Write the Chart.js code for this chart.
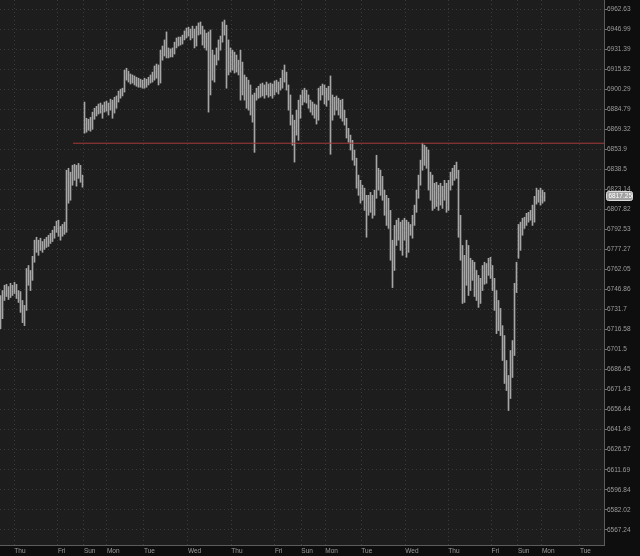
<!DOCTYPE html>
<html>
<head>
<meta charset="utf-8">
<title>ES hourly bars</title>
<script src="https://cdn.jsdelivr.net/npm/chart.js@4.4.1/dist/chart.umd.min.js"></script>
<style>
  html, body { margin: 0; padding: 0; background: #0e0e0e; }
  #wrap { width: 640px; height: 556px; position: relative; }
</style>
</head>
<body>
<div id="wrap"><canvas id="priceChart"></canvas></div>
<script>
// hourly OHLC, one entry per bar (left to right)
const opens = [
  6723.25, 6738.5, 6741.5, 6746, 6748.25, 6742.25, 6747.5, 6744.5, 6750, 6741.5,
  6744.5, 6732.5, 6724.75, 6732.5, 6759.75, 6755.25, 6757.5, 6769, 6780.25, 6778,
  6781.75, 6779.5, 6781, 6782.5, 6784.25, 6785.75, 6787.25, 6789.5, 6793.25, 6796.25,
  6789.5, 6792.5, 6791, 6794.75, 6833, 6816.25, 6830, 6837.75, 6834.75, 6839.25,
  6836.25, 6833, 6870, 6874.75, 6871.75, 6875.5, 6870, 6880.25, 6882.5, 6884.75,
  6887, 6884, 6886.25, 6888.75, 6885.5, 6888, 6891, 6882.5, 6891.75, 6893.25,
  6896.5, 6898.75, 6899.5, 6912, 6913.5, 6908.75, 6909.5, 6907.25, 6908, 6905.75,
  6907.25, 6904.25, 6905.75, 6903.5, 6906.5, 6908, 6909.5, 6912, 6915, 6918.25,
  6905.75, 6926.75, 6929, 6932.25, 6927.5, 6930.5, 6927.5, 6929.75, 6934.5, 6936.75,
  6938.5, 6936, 6940, 6943, 6945.5, 6943.75, 6941.5, 6946.25, 6935.25, 6946.25,
  6948.5, 6945.5, 6938.5, 6935.25, 6932.25, 6915, 6929, 6912, 6921.25, 6926.75,
  6934.5, 6938.5, 6947.75, 6944.75, 6930.5, 6922.75, 6926.75, 6919.75, 6924.5, 6916.5,
  6918.25, 6915, 6899.5, 6907.25, 6891.75, 6895.75, 6884, 6877.75, 6893.25, 6898,
  6899.5, 6895.75, 6901, 6897.25, 6902.5, 6898, 6901, 6896.5, 6902.5, 6899.5,
  6904.25, 6907.25, 6913.5, 6908.75, 6901, 6888, 6876.25, 6868.5, 6872.5, 6870,
  6884, 6891.75, 6895.75, 6898, 6893.25, 6888.75, 6887, 6884, 6885.5, 6877.75,
  6898, 6899.5, 6901, 6891.75, 6898, 6895.75, 6888, 6882.5, 6891.75, 6888,
  6885.5, 6888.75, 6877.75, 6874.75, 6865.5, 6862.5, 6856.25, 6849.25, 6845.5, 6830,
  6822.5, 6817.75, 6822.5, 6811, 6805.5, 6814.75, 6808.5, 6814.75, 6817.75, 6836.25,
  6826.25, 6831.5, 6818.5, 6807, 6814.75, 6798, 6776.5, 6765, 6788, 6793.25,
  6788, 6780.25, 6791.75, 6795.5, 6776.5, 6790.25, 6793.25, 6799.5, 6807, 6818.5,
  6830, 6841.5, 6854.75, 6849.25, 6851.5, 6826.25, 6830, 6811, 6822.5, 6814.75,
  6820.75, 6816.25, 6824, 6818.5, 6811, 6826.25, 6831.5, 6836.25, 6839.25, 6834,
  6795.5, 6776.5, 6761.25, 6753.75, 6772.75, 6757.5, 6765, 6759.75, 6746, 6752.25,
  6738.5, 6750, 6761.25, 6753.75, 6762.75, 6767.5, 6759.75, 6750, 6738.5, 6723.25,
  6729.5, 6715.75, 6700.75, 6685.75, 6674.5, 6667, 6689.5, 6700.75, 6746, 6772.75,
  6790.25, 6793.25, 6798, 6799.5, 6802.5, 6801, 6804.75, 6799.5, 6814.75, 6820.75,
  6816.25, 6820, 6818.5
];
const highs = [
  6742.25, 6746, 6750, 6750.75, 6749, 6751.5, 6750, 6752.25, 6750.75, 6746,
  6745.25, 6738.5, 6734.75, 6762.75, 6765, 6761.25, 6772, 6784.25, 6786.5, 6784.25,
  6785.75, 6783.25, 6785, 6786.5, 6788, 6789.5, 6791.75, 6794.75, 6798.75, 6799.5,
  6794.75, 6796.25, 6798, 6837.75, 6839.25, 6836.25, 6841.5, 6842.25, 6841.5, 6843,
  6841.5, 6834, 6890.25, 6877.75, 6877, 6878.5, 6882.5, 6885.5, 6887, 6888.75,
  6889.5, 6888, 6890.25, 6891, 6889.5, 6892.5, 6891.75, 6894, 6895, 6898.75,
  6900.25, 6901, 6915, 6916.5, 6914.25, 6912, 6911.25, 6910.5, 6909.5, 6908.75,
  6908, 6907.25, 6908.75, 6908, 6909.5, 6911.25, 6913.5, 6918.25, 6919.75, 6919,
  6930.5, 6933.75, 6938.5, 6944.75, 6932.25, 6931.5, 6932.25, 6936.75, 6940, 6940.75,
  6940.75, 6942.25, 6945.5, 6947.75, 6948.5, 6947, 6949.25, 6947, 6949.25, 6951.75,
  6952.5, 6949.25, 6946.25, 6943.75, 6944.75, 6946.25, 6930.5, 6926.75, 6932.25, 6938.5,
  6941.5, 6952.5, 6954, 6950, 6938.5, 6932.25, 6930.5, 6929, 6926.75, 6922.75,
  6930.5, 6921.25, 6911.25, 6909.5, 6907.25, 6903.5, 6895.75, 6897.25, 6901, 6902.5,
  6904.25, 6905, 6903.5, 6905.75, 6904.25, 6905, 6904.25, 6906.5, 6907.25, 6905.75,
  6908.75, 6915, 6919, 6913.5, 6903.5, 6895.75, 6880.25, 6876.25, 6884, 6891.75,
  6895.75, 6899.5, 6901, 6899.5, 6895.75, 6891.75, 6890.25, 6888.75, 6888, 6901,
  6902.5, 6904.25, 6903.5, 6901, 6902.5, 6910.5, 6895.75, 6894, 6895, 6893.25,
  6891.75, 6892.5, 6884, 6877.75, 6870, 6864.75, 6860.75, 6853.25, 6847, 6834,
  6830, 6826.25, 6824, 6818.5, 6818.5, 6820.75, 6818.5, 6822.5, 6849.25, 6839.25,
  6837.75, 6833, 6822.5, 6818.5, 6816.25, 6807, 6784.25, 6795.5, 6799.5, 6801,
  6798, 6799.5, 6801, 6799.5, 6798, 6796.25, 6803.25, 6811, 6822.5, 6834,
  6845.5, 6858.5, 6857, 6855.5, 6853.25, 6836.25, 6834, 6827.75, 6828.5, 6826.25,
  6827.75, 6825.5, 6830, 6827.75, 6830, 6836.25, 6839.25, 6841.5, 6844, 6837.75,
  6803.25, 6780.25, 6772.75, 6784.25, 6780.25, 6770.5, 6769, 6767.5, 6761.25, 6757.5,
  6755.25, 6765, 6767.5, 6766.5, 6770.5, 6771.25, 6765, 6755.25, 6746, 6738.5,
  6732.5, 6719.5, 6712, 6693.25, 6682, 6700.75, 6708.25, 6751.5, 6767.5, 6796.25,
  6798, 6801, 6801.75, 6804.75, 6805.5, 6807, 6811, 6817.75, 6824, 6822.5,
  6824, 6822.5, 6820.75
];
const lows = [
  6717.25, 6724.75, 6738.5, 6741.5, 6739.25, 6740.75, 6742.25, 6743.75, 6740, 6737,
  6729.5, 6721.75, 6719.5, 6731, 6750, 6746, 6753.75, 6767.5, 6775, 6772.75,
  6776.5, 6775, 6777.25, 6778.75, 6779.5, 6781.75, 6783.25, 6785.75, 6790.25, 6787.25,
  6784.25, 6787.25, 6788.75, 6790.25, 6812.5, 6814.75, 6826.25, 6830, 6825.5, 6831.5,
  6828.5, 6824.75, 6866.25, 6867, 6868.5, 6867.75, 6869.25, 6877, 6879.5, 6881,
  6881.75, 6877.75, 6882.5, 6883.25, 6880.25, 6884, 6877.75, 6881.75, 6885.5, 6890.25,
  6893.25, 6895, 6898, 6907.25, 6905.75, 6904.25, 6905, 6903.5, 6902.5, 6901.75,
  6901.75, 6901, 6901, 6901.75, 6903.5, 6905, 6905.75, 6907.25, 6908.75, 6903.5,
  6905, 6922.75, 6926, 6924.5, 6924.5, 6925.25, 6925.25, 6927.5, 6932.25, 6933.75,
  6934.5, 6935.25, 6938.5, 6940, 6941.5, 6938.5, 6940, 6932.25, 6933.75, 6942.25,
  6943, 6934.5, 6932.25, 6930.5, 6882.5, 6895.75, 6907.25, 6905.75, 6919, 6922.75,
  6930.5, 6936.75, 6942.25, 6901, 6911.25, 6913.5, 6915, 6912.75, 6913.5, 6911.25,
  6891.75, 6895.75, 6891.75, 6885.5, 6884, 6880.25, 6874.75, 6851.5, 6891.75, 6893.25,
  6894, 6895, 6893.25, 6895.75, 6894, 6895, 6893.25, 6895.75, 6898, 6896.5,
  6899.5, 6901, 6905.75, 6899.5, 6884, 6872.5, 6857, 6844, 6864.75, 6860.75,
  6877.75, 6888, 6890.25, 6889.5, 6885.5, 6882.5, 6880.25, 6877.75, 6873.25, 6876.25,
  6891.75, 6895.75, 6888.75, 6887, 6891.75, 6850, 6876.25, 6880.25, 6884, 6880.25,
  6877.75, 6875.5, 6872.5, 6862.5, 6859.25, 6853.25, 6845.5, 6841.5, 6824, 6818.5,
  6812.5, 6814.75, 6807, 6786.5, 6803.25, 6805.5, 6801, 6803.25, 6816.25, 6822.5,
  6818.5, 6814.75, 6803.25, 6795.5, 6793.25, 6769, 6748.25, 6761.25, 6780.25, 6784.25,
  6776.5, 6772.75, 6784.25, 6771.25, 6775, 6788, 6785.75, 6795.5, 6805.5, 6816.25,
  6826.25, 6837.75, 6841.5, 6839.25, 6822.5, 6814.75, 6807, 6808.5, 6810, 6807,
  6811, 6808.5, 6814.75, 6805.5, 6807, 6822.5, 6826.25, 6830, 6831.5, 6786.5,
  6769, 6736.25, 6737, 6750, 6742.25, 6746, 6753.75, 6741.5, 6738.5, 6733.25,
  6736.25, 6746, 6750.75, 6751.5, 6757.5, 6755.25, 6746, 6731, 6713.5, 6715.75,
  6712, 6693.25, 6676, 6670.75, 6655.75, 6664.75, 6680.5, 6697, 6744.5, 6770.5,
  6776.5, 6788, 6793.25, 6795.5, 6798, 6799.5, 6795.5, 6798, 6811.75, 6813.25,
  6811, 6812.5, 6814
];
const closes = [
  6738.5, 6741.5, 6746, 6748.25, 6742.25, 6747.5, 6744.5, 6750, 6741.5, 6744.5,
  6732.5, 6724.75, 6732.5, 6759.75, 6755.25, 6757.5, 6769, 6780.25, 6778, 6781.75,
  6779.5, 6781, 6782.5, 6784.25, 6785.75, 6787.25, 6789.5, 6793.25, 6796.25, 6789.5,
  6792.5, 6791, 6794.75, 6833, 6816.25, 6830, 6837.75, 6834.75, 6839.25, 6836.25,
  6833, 6828.5, 6874.75, 6871.75, 6875.5, 6870, 6880.25, 6882.5, 6884.75, 6887,
  6884, 6886.25, 6888.75, 6885.5, 6888, 6891, 6882.5, 6891.75, 6893.25, 6896.5,
  6898.75, 6899.5, 6912, 6913.5, 6908.75, 6909.5, 6907.25, 6908, 6905.75, 6907.25,
  6904.25, 6905.75, 6903.5, 6906.5, 6908, 6909.5, 6912, 6915, 6918.25, 6905.75,
  6926.75, 6929, 6932.25, 6927.5, 6930.5, 6927.5, 6929.75, 6934.5, 6936.75, 6938.5,
  6936, 6940, 6943, 6945.5, 6943.75, 6941.5, 6946.25, 6935.25, 6946.25, 6948.5,
  6945.5, 6938.5, 6935.25, 6932.25, 6915, 6929, 6912, 6921.25, 6926.75, 6934.5,
  6938.5, 6947.75, 6944.75, 6930.5, 6922.75, 6926.75, 6919.75, 6924.5, 6916.5, 6918.25,
  6915, 6899.5, 6907.25, 6891.75, 6895.75, 6884, 6877.75, 6893.25, 6898, 6899.5,
  6895.75, 6901, 6897.25, 6902.5, 6898, 6901, 6896.5, 6902.5, 6899.5, 6904.25,
  6907.25, 6913.5, 6908.75, 6901, 6888, 6876.25, 6868.5, 6872.5, 6870, 6884,
  6891.75, 6895.75, 6898, 6893.25, 6888.75, 6887, 6884, 6885.5, 6877.75, 6898,
  6899.5, 6901, 6891.75, 6898, 6895.75, 6888, 6882.5, 6891.75, 6888, 6885.5,
  6888.75, 6877.75, 6874.75, 6865.5, 6862.5, 6856.25, 6849.25, 6845.5, 6830, 6822.5,
  6817.75, 6822.5, 6811, 6805.5, 6814.75, 6808.5, 6814.75, 6817.75, 6836.25, 6826.25,
  6831.5, 6818.5, 6807, 6814.75, 6798, 6776.5, 6765, 6788, 6793.25, 6788,
  6780.25, 6791.75, 6795.5, 6776.5, 6790.25, 6793.25, 6799.5, 6807, 6818.5, 6830,
  6841.5, 6854.75, 6849.25, 6851.5, 6826.25, 6830, 6811, 6822.5, 6814.75, 6820.75,
  6816.25, 6824, 6818.5, 6811, 6826.25, 6831.5, 6836.25, 6839.25, 6834, 6795.5,
  6776.5, 6761.25, 6753.75, 6772.75, 6757.5, 6765, 6759.75, 6746, 6752.25, 6738.5,
  6750, 6761.25, 6753.75, 6762.75, 6767.5, 6759.75, 6750, 6738.5, 6723.25, 6729.5,
  6715.75, 6700.75, 6685.75, 6674.5, 6667, 6689.5, 6700.75, 6746, 6762.75, 6790.25,
  6793.25, 6798, 6799.5, 6802.5, 6801, 6804.75, 6799.5, 6814.75, 6820.75, 6816.25,
  6820, 6818.5, 6817.25
];

// price axis labels (log spaced)
const priceTicks = [
  6962.63, 6946.99, 6931.39, 6915.82, 6900.29, 6884.79, 6869.32, 6853.9, 6838.5,
  6823.14, 6807.82, 6792.53, 6777.27, 6762.05, 6746.86, 6731.7, 6716.58, 6701.5,
  6686.45, 6671.43, 6656.44, 6641.49, 6626.57, 6611.69, 6596.84, 6582.02, 6567.24
];

// session starts, in bar units
const dayTickPos = [6.9, 28.7, 41.7, 53.2, 71.7, 93.7, 115.4, 137.2, 150.4, 162.4, 180.4, 202.4, 223.9, 245.5, 258.7, 270.7, 289.7];
const dayLabels = ['Thu', 'Fri', 'Sun', 'Mon', 'Tue', 'Wed', 'Thu', 'Fri', 'Sun', 'Mon', 'Tue', 'Wed', 'Thu', 'Fri', 'Sun', 'Mon', 'Tue'];

// drawn price level
const levelPrice = 6858.5;
const levelFromBar = 36.25;

const barColor = '#a6a6a6';
const tickColor = '#606060';
const gridColor = '#3b3b3b';
const labelColor = '#9c9c9c';
const fontFamily = "'Liberation Sans', Arial, sans-serif";

const X_MIN = -0.25, X_MAX = 301.75;

const backdrop = {
    id: 'backdrop',
    beforeDraw(chart) {
        const { ctx, chartArea: a } = chart;
        ctx.save();
        ctx.fillStyle = '#0e0e0e';
        ctx.fillRect(0, 0, chart.width, chart.height);
        ctx.fillStyle = '#1d1d1d';
        ctx.fillRect(a.left, a.top, a.right - a.left, a.bottom - a.top);
        ctx.restore();
    }
};

// last price bubble on the price axis
const lastPriceTag = {
    id: 'lastPriceTag',
    afterDraw(chart) {
        const { ctx, chartArea } = chart;
        const last = closes[closes.length - 1];
        const y = Math.round(chart.scales.y.getPixelForValue(last)) - 1;
        const x = chartArea.right + 2;
        ctx.save();
        ctx.fillStyle = '#a2a2a2';
        ctx.strokeStyle = '#dcdcdc';
        ctx.lineWidth = 1;
        ctx.beginPath();
        ctx.roundRect(x + 0.5, y - 4.5, 26, 9, 2);
        ctx.fill();
        ctx.stroke();
        ctx.fillStyle = '#ffffff';
        ctx.font = '6.5px ' + fontFamily;
        ctx.textBaseline = 'middle';
        ctx.fillText(last.toFixed(2), x + 2.5, y + 0.5);
        ctx.restore();
    }
};

const idx = opens.map((_, i) => i);
const ctx = document.getElementById('priceChart').getContext('2d');

const priceChart = new Chart(ctx, {
    type: 'bar',
    data: {
        datasets: [{
            type: 'bar',
            label: 'range',
            data: idx.map(i => ({ x: i, y: [lows[i], highs[i]] })),
            backgroundColor: barColor,
            borderWidth: 0,
            barThickness: 1,
            order: 3
        }, {
            type: 'line',
            label: 'open',
            data: idx.map(i => ({ x: i - 0.5, y: opens[i] })),
            showLine: false,
            borderWidth: 0,
            pointStyle: 'line',
            pointRadius: 0.5,
            pointBorderWidth: 1,
            pointBorderColor: tickColor,
            order: 2
        }, {
            type: 'line',
            label: 'close',
            data: idx.map(i => ({ x: i + 0.5, y: closes[i] })),
            showLine: false,
            borderWidth: 0,
            pointStyle: 'line',
            pointRadius: 0.5,
            pointBorderWidth: 1,
            pointBorderColor: tickColor,
            order: 2
        }, {
            type: 'line',
            label: 'level',
            data: [{ x: levelFromBar, y: levelPrice }, { x: X_MAX, y: levelPrice }],
            borderColor: '#a83a3a',
            borderWidth: 1,
            pointRadius: 0,
            order: 1
        }]
    },
    options: {
        responsive: true,
        maintainAspectRatio: false,
        animation: false,
        events: [],
        layout: { padding: 0, autoPadding: false },
        plugins: {
            legend: { display: false },
            tooltip: { enabled: false }
        },
        scales: {
            x: {
                type: 'linear',
                min: X_MIN,
                max: X_MAX,
                offset: false,
                afterBuildTicks: s => { s.ticks = dayTickPos.map(v => ({ value: v })); },
                afterFit: s => { s.height = 11; s.paddingLeft = 0; s.paddingRight = 0; },
                grid: { color: gridColor, drawTicks: false, offset: false },
                border: { color: '#5c5c5c', dash: [1, 3] },
                ticks: {
                    color: labelColor,
                    font: { family: fontFamily, size: 6.5 },
                    padding: 2,
                    align: 'start',
                    maxRotation: 0,
                    autoSkip: false,
                    callback: (v, i) => dayLabels[i]
                }
            },
            y: {
                type: 'logarithmic',
                position: 'right',
                min: 6556.04,
                max: 6969.67,
                bounds: 'data',
                beginAtZero: false,
                afterBuildTicks: s => { s.ticks = priceTicks.map(v => ({ value: v })); },
                afterFit: s => { s.width = 36; s.paddingTop = 0; s.paddingBottom = 0; },
                grid: { color: gridColor, tickLength: 3, tickColor: '#777777', tickBorderDash: [] },
                border: { color: '#5c5c5c', dash: [1, 3] },
                ticks: {
                    color: labelColor,
                    font: { family: fontFamily, size: 6.5, lineHeight: 0.1 },
                    padding: 0,
                    autoSkip: false,
                    callback: v => String(v)
                }
            }
        }
    },
    plugins: [backdrop, lastPriceTag]
});
</script>
</body>
</html>
